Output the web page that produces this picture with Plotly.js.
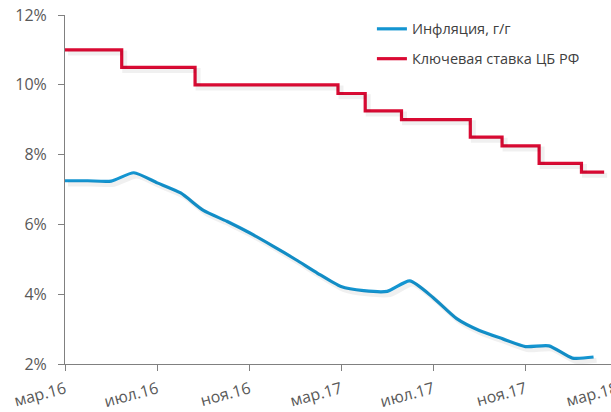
<!DOCTYPE html>
<html>
<head>
<meta charset="utf-8">
<script src="https://cdn.plot.ly/plotly-3.0.1.min.js"></script>
<style>
html,body{margin:0;padding:0;overflow:hidden;background:#fff;}
#chart{width:640px;height:412px;}
</style>
</head>
<body>
<div id="chart"></div>
<script>
// Inflation, y/y (%), month-end
const inflDates = ['2016-03-31','2016-04-30','2016-05-31','2016-06-30','2016-07-31','2016-08-31','2016-09-30','2016-10-31','2016-11-30','2016-12-31',
  '2017-01-31','2017-02-28','2017-03-31','2017-04-30','2017-05-31','2017-06-30','2017-07-31','2017-08-31','2017-09-30','2017-10-31','2017-11-30','2017-12-31',
  '2018-01-31','2018-02-28'];
const inflValues = [7.25,7.25,7.24,7.48,7.19,6.9,6.4,6.09,5.76,5.38,4.98,4.6,4.22,4.1,4.08,4.38,3.9,3.3,2.96,2.72,2.5,2.52,2.17,2.2];

// Key rate of the Bank of Russia (%), change dates
const rateDates = ['2016-03-31','2016-06-14','2016-09-19','2017-03-27','2017-05-02','2017-06-19','2017-09-18','2017-10-30','2017-12-18','2018-02-12','2018-03-14'];
const rateValues = [11,10.5,10,9.75,9.25,9.0,8.5,8.25,7.75,7.5,7.5];

// Axis ticks
const tickDates = ['2016-03-31','2016-07-31','2016-11-30','2017-03-31','2017-07-31','2017-11-30','2018-03-31'];
const tickLabels = ['мар.16','июл.16','ноя.16','мар.17','июл.17','ноя.17','мар.18'];
const yTicks = [2,4,6,8,10,12];
const yTickLabels = ['2%','4%','6%','8%','10%','12%'];

const seriesNames = ['Инфляция, г/г','Ключевая ставка ЦБ РФ'];

const xRange = ['2016-03-31','2018-03-31'];
const yRange = [2,12];

// shadow axes: same scale, shifted by a few pixels
function shiftDate(s, days){ const d = new Date(s+'T00:00:00Z'); d.setUTCDate(d.getUTCDate()+days); return d.toISOString().slice(0,10); }
const xRangeShadow = [shiftDate(xRange[0],-4), shiftDate(xRange[1],-4)];
const yRangeShadow = [yRange[0]+0.09, yRange[1]+0.09];

const BLUE = '#1495D1';
const RED = '#DA0A33';
const GRAY = '#808080';
const FONT = '"Open Sans", "Noto Sans", sans-serif';

const traces = [
  {x: inflDates, y: inflValues, xaxis:'x2', yaxis:'y2', mode:'lines', showlegend:false, hoverinfo:'skip',
   line:{color:'rgba(0,0,0,0.06)', width:5, shape:'spline', smoothing:0.6}},
  {x: rateDates, y: rateValues, xaxis:'x2', yaxis:'y2', mode:'lines', showlegend:false, hoverinfo:'skip',
   line:{color:'rgba(0,0,0,0.06)', width:5, shape:'hv'}},
  {x: inflDates, y: inflValues, name: seriesNames[0], mode:'lines', legendgroup:'a',
   line:{color:BLUE, width:3.2, shape:'spline', smoothing:0.6}},
  {x: rateDates, y: rateValues, name: seriesNames[1], mode:'lines', legendgroup:'b',
   line:{color:RED, width:3.2, shape:'hv'}}
];

const layout = {
  width: 640, height: 412,
  margin: {l:65, r:23, t:15, b:48},
  paper_bgcolor:'#fff', plot_bgcolor:'rgba(0,0,0,0)',
  font: {family: FONT, color:'#595959', size:15},
  showlegend: true,
  legend: {x:0.556, y:1.006, xanchor:'left', yanchor:'top', bgcolor:'rgba(0,0,0,0)',
           font:{family:FONT, size:14.5, color:'#404040'}, itemwidth:30, tracegroupgap:8, traceorder:'grouped'},
  xaxis: {type:'date', range:xRange, tickmode:'array', tickvals:tickDates, ticktext:tickLabels,
          tickangle:-15, ticks:'outside', ticklen:6, tickcolor:GRAY, showline:true, linecolor:GRAY, linewidth:1,
          ticklabelstandoff:3,
          showgrid:false, zeroline:false, tickfont:{size:16, color:'#595959'}},
  yaxis: {range:yRange, tickmode:'array', tickvals:yTicks, ticktext:yTickLabels,
          ticks:'outside', ticklen:6, tickcolor:GRAY, showline:true, linecolor:GRAY, linewidth:1,
          ticklabelstandoff:8,
          showgrid:false, zeroline:false, tickfont:{size:16, color:'#595959'}},
  xaxis2: {type:'date', range:xRangeShadow, overlaying:'x', visible:false},
  yaxis2: {range:yRangeShadow, overlaying:'y', visible:false}
};

Plotly.newPlot('chart', traces, layout, {displayModeBar:false, staticPlot:true});
</script>
</body>
</html>
